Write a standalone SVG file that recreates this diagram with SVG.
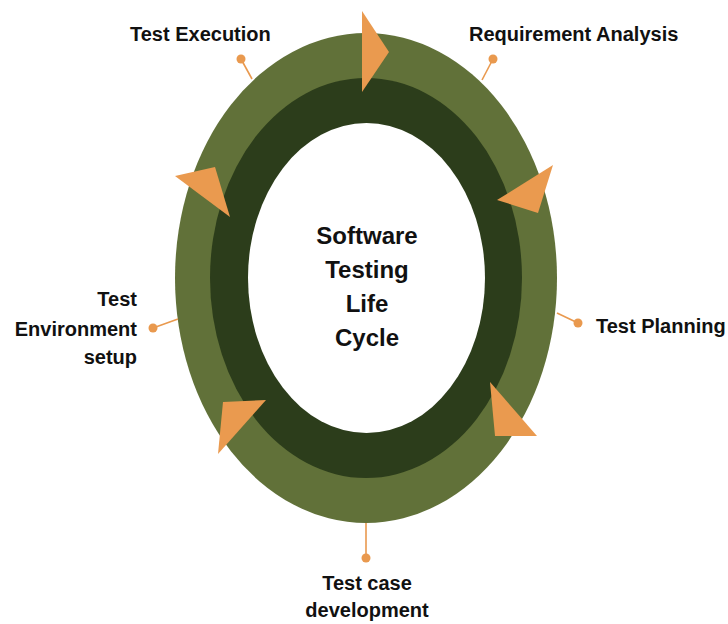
<svg xmlns="http://www.w3.org/2000/svg" width="728" height="624" viewBox="0 0 728 624">
<style>
.lbl{font-family:"Liberation Sans",Arial,sans-serif;font-weight:bold;font-size:20px;fill:#111}
.ctr{font-family:"Liberation Sans",Arial,sans-serif;font-weight:bold;font-size:24px;fill:#111;text-anchor:middle}
.lead{stroke:#e9994e;stroke-width:1.6;fill:none}
.dot{fill:#e9994e}
.arrow{fill:#ea9a4f}
</style>
<rect width="728" height="624" fill="#ffffff"/>
<g id="cycle-ring">
<ellipse cx="366" cy="278" rx="191" ry="245" fill="#617139"/>
<ellipse cx="366" cy="278" rx="156" ry="200" fill="#2c3d1b"/>
<ellipse cx="366.5" cy="278" rx="118.5" ry="155" fill="#ffffff"/>
</g>
<g id="connectors">
<line class="lead" x1="252" y1="79" x2="241" y2="59"/>
<line class="lead" x1="482" y1="80" x2="493" y2="59"/>
<line class="lead" x1="557" y1="313" x2="578" y2="323"/>
<line class="lead" x1="178" y1="319" x2="153" y2="328"/>
<line class="lead" x1="366" y1="523" x2="366" y2="557"/>
<circle class="dot" cx="241" cy="59" r="4.5"/>
<circle class="dot" cx="493" cy="59" r="4.5"/>
<circle class="dot" cx="578" cy="323" r="4.5"/>
<circle class="dot" cx="153" cy="328" r="4.5"/>
<circle class="dot" cx="366" cy="558" r="4.5"/>
</g>
<g id="arrows">
<polygon class="arrow" points="362,11 389,52 362,92"/>
<polygon class="arrow" points="553,165 497,200 538,213"/>
<polygon class="arrow" points="490,382 495,436 537,436"/>
<polygon class="arrow" points="223,402 266,400 218,454"/>
<polygon class="arrow" points="175,176 215,167 230,217"/>
</g>
<g id="center">
<text class="ctr" x="367" y="244">Software</text>
<text class="ctr" x="367" y="278">Testing</text>
<text class="ctr" x="367" y="312">Life</text>
<text class="ctr" x="367" y="346">Cycle</text>
</g>
<g id="requirement-analysis">
<text class="lbl" x="469" y="41">Requirement Analysis</text>
</g>
<g id="test-planning">
<text class="lbl" x="596" y="333">Test Planning</text>
</g>
<g id="test-case-development">
<text class="lbl" x="367" y="590" text-anchor="middle">Test case</text>
<text class="lbl" x="367" y="617" text-anchor="middle">development</text>
</g>
<g id="test-environment-setup">
<text class="lbl" x="137" y="306" text-anchor="end">Test</text>
<text class="lbl" x="137" y="336" text-anchor="end">Environment</text>
<text class="lbl" x="137" y="364" text-anchor="end">setup</text>
</g>
<g id="test-execution">
<text class="lbl" x="130" y="41">Test Execution</text>
</g>
</svg>
